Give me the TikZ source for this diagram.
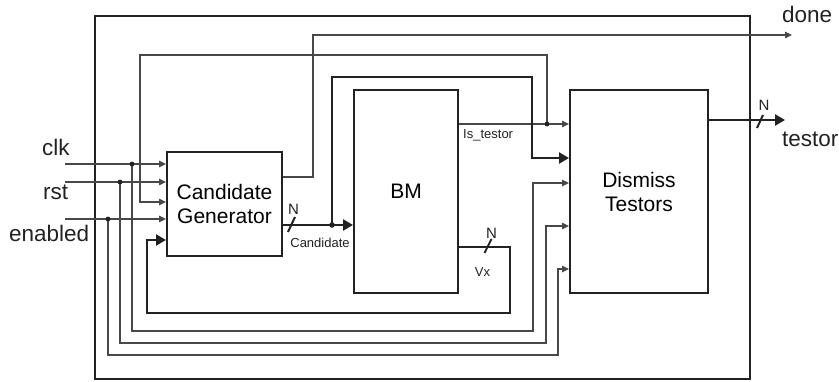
\documentclass[tikz,border=0pt]{standalone}
\usepackage{fontspec}
\setmainfont{Liberation Sans}
\usetikzlibrary{arrows.meta}
\definecolor{ink}{HTML}{222222}
\definecolor{wirec}{HTML}{484848}
\begin{document}
\begin{tikzpicture}[x=1pt,y=-1pt,
  blk/.style={draw=ink, line width=2pt, fill=white, align=center, inner sep=0pt,
    font=\fontsize{21}{24}\selectfont},
  outerbox/.style={draw=ink, line width=2.7pt, inner sep=0pt,
    minimum width=655pt, minimum height=363pt},
  wline/.style={draw=wirec, line width=1.2pt},
  wire/.style={wline, -{Triangle[length=7pt,width=6.5pt]}},
  busline/.style={draw=ink, line width=2.8pt},
  bus/.style={busline, -{Triangle[length=10pt,width=11pt]}},
  slash/.style={draw=ink, line width=2pt},
  biglab/.style={font=\fontsize{22.5}{26}\selectfont, text=ink, inner sep=0pt},
  smalllab/.style={font=\fontsize{13}{15}\selectfont, text=ink, inner sep=0pt},
  nlab/.style={font=\fontsize{15}{17}\selectfont, text=ink, inner sep=0pt},
  jdot/.style={fill=ink}
]
\useasboundingbox (0,0) rectangle (839,382);

% outer system box
\node[outerbox] (sys) at (422.5,197.5) {};

% blocks
\node[blk, minimum width=115pt, minimum height=104pt] (cg) at (224.5,204) {Candidate\\Generator};
\node[blk, minimum width=104pt, minimum height=203pt] (bm) at (406,191.5) {BM};
\node[blk, minimum width=138pt, minimum height=203pt] (dt) at (639,191.5) {Dismiss\\Testors};

% coordinates
\coordinate (clkS) at (65,164);
\coordinate (rstS) at (65,182);
\coordinate (enS) at (65,219);
\coordinate (clkD) at (132,164);
\coordinate (rstD) at (120,182);
\coordinate (enD) at (108,219);
\coordinate (clkC) at (533,183);
\coordinate (rstC) at (546,226);
\coordinate (enC) at (558,269);
\coordinate (cdot) at (332,225);
\coordinate (busC) at (532,158);
\coordinate (isdot) at (547,124);
\coordinate (isbackC) at (140,202);
\coordinate (doneC) at (313,177);
\coordinate (doneE) at (792,35);
\coordinate (testE) at (785,120);
\coordinate (vxC) at (510,247);
\coordinate (fbC) at (147,240);

% inputs to candidate generator
\draw[wire] (clkS) -- (cg.west |- clkS);
\draw[wire] (rstS) -- (cg.west |- rstS);
\draw[wire] (enS) -- (cg.west |- enS);

% inputs routed to dismiss testors
\draw[wire] (clkD) -- ++(0,167) -| (clkC) -- (dt.west |- clkC);
\draw[wire] (rstD) -- ++(0,161) -| (rstC) -- (dt.west |- rstC);
\draw[wire] (enD) -- ++(0,136) -| (enC) -- (dt.west |- enC);
\fill[jdot] (clkD) circle[radius=2.4];
\fill[jdot] (rstD) circle[radius=2.4];
\fill[jdot] (enD) circle[radius=2.4];

% Is_testor
\draw[wire] (bm.east |- isdot) -- (dt.west |- isdot);
\draw[wire] (isdot) -- ++(0,-69) -| (isbackC) -- (cg.west |- isbackC);
\fill[jdot] (isdot) circle[radius=2.4];

% done
\draw[wire] (cg.east |- doneC) -- (doneC) |- (doneE);

% candidate bus
\draw[bus] (cg.east |- cdot) -- (bm.west |- cdot);
\draw[bus] (cdot) -- ++(0,-148) -| (busC) -- (dt.west |- busC);
\fill[jdot] (cdot) circle[radius=2.8];

% Vx feedback
\draw[bus] (bm.east |- vxC) -- (vxC) -- ++(0,66) -| (fbC) -- (cg.west |- fbC);

% testor output
\draw[bus] (dt.east |- testE) -- (testE);

% bus width marks
\draw[slash] (288,232) -- (295,217);
\draw[slash] (484.5,253) -- (491.5,239);
\draw[slash] (757,128) -- (763,115);
\node[nlab] (n1) at (293.5,209.5) {N};
\node[nlab] (n2) at (491.5,233) {N};
\node[nlab] (n3) at (764,105.5) {N};

% signal labels
\node[smalllab, anchor=base] (candl) at (320,247.5) {Candidate};
\node[smalllab, anchor=base west] (isl) at (463,139) {Is\_testor};
\node[smalllab, anchor=base] (vxl) at (482.5,277) {Vx};

% port labels
\node[biglab, anchor=base west] (clkl) at (42,156) {clk};
\node[biglab, anchor=base west] (rstl) at (43,200) {rst};
\node[biglab, anchor=base west] (enl) at (9,242) {enabled};
\node[biglab, anchor=base west] (donel) at (782,23) {done};
\node[biglab, anchor=base west] (testl) at (782,147) {testor};
\end{tikzpicture}
\end{document}
